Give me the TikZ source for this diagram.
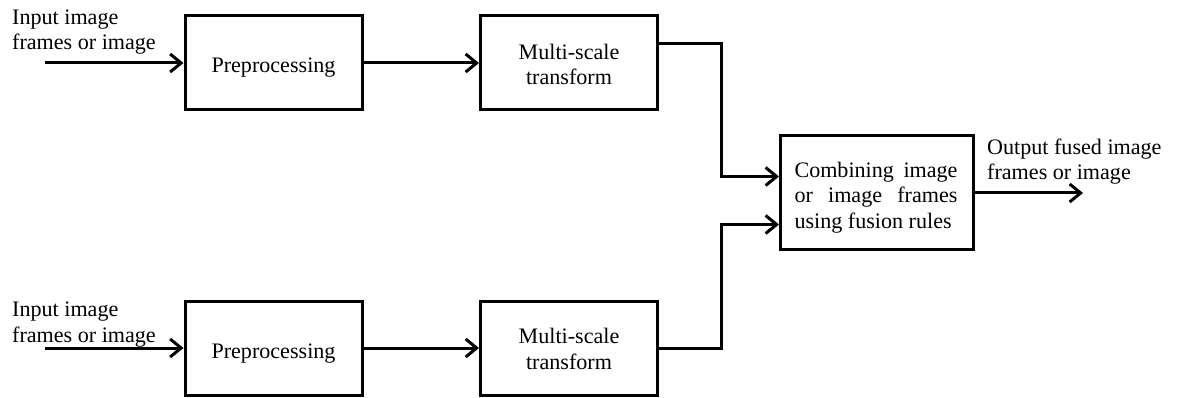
\documentclass[tikz,border=0pt]{standalone}
\usepackage{fontspec}
\setmainfont{Liberation Serif}
\usetikzlibrary{arrows.meta}
\begin{document}
\begin{tikzpicture}[x=1pt,y=-1pt,
  txt/.style={font=\fontsize{22.1}{25.5}\selectfont, inner sep=0pt, anchor=base},
  blk/.style={draw, line width=3pt, inner sep=0pt, minimum height=94pt},
  arr/.style={line width=3pt, -{Straight Barb[length=11pt,width=18pt]}}]
\useasboundingbox (0,0) rectangle (1177,398);

% processing blocks
\node[blk, minimum width=177pt] (pre1) at (273.5,63) {};
\node[blk, minimum width=177pt] (pre2) at (273.5,348) {};
\node[blk, minimum width=177pt] (ms1) at (569,63) {};
\node[blk, minimum width=177pt] (ms2) at (569,348) {};
\node[blk, minimum width=193pt, minimum height=113pt] (comb) at (877,192.5) {};

% block texts (base anchor = baseline of the last line)
\node[txt] (tpre1) at (273.5,73) {Preprocessing};
\node[txt] (tpre2) at (273.5,358) {Preprocessing};
\node[txt, align=center] (tms1) at (569,85) {Multi-scale\\transform};
\node[txt, align=center] (tms2) at (569,369) {Multi-scale\\transform};
% justified three-line text, the last line left at its natural width
\node[txt, align=left] (tcomb) at (876,228)
  {\makebox[163pt][s]{Combining image}\\
   \makebox[163pt][s]{or image frames}\\
   using fusion rules};

% input / output captions
\node[txt, anchor=base west, align=left] (in1) at (12,50) {Input image\\frames or image};
\node[txt, anchor=base west, align=left] (in2) at (12,342) {Input image\\frames or image};
\node[txt, anchor=base west, align=left] (out) at (987,180) {Output fused image\\frames or image};

% connectors
\coordinate (s1) at (45,63);
\coordinate (s2) at (45,348);
\coordinate (e) at (1083,193);
\draw[arr] (s1) -- (pre1.west);
\draw[arr] (s2) -- (pre2.west);
\draw[arr] (pre1.east) -- (ms1.west);
\draw[arr] (pre2.east) -- (ms2.west);
\draw[arr] ([yshift=19pt]ms1.east) -- ++(62,0) |- ([yshift=16pt]comb.west);
\draw[arr] (ms2.east) -- ++(62,0) |- ([yshift=-32pt]comb.west);
\draw[arr] (comb.east |- e) -- (e);
\end{tikzpicture}
\end{document}
